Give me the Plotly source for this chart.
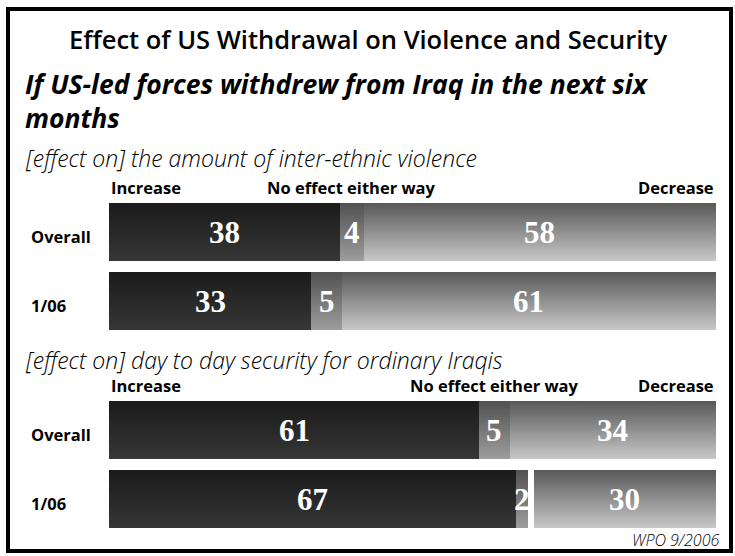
import plotly.graph_objects as go

# ---------------- data ----------------
categories = ["Overall", "1/06"]
responses = ["Increase", "No effect either way", "Decrease"]

violence_increase = [38, 33]
violence_no_effect = [4, 5]
violence_decrease = [58, 61]

security_increase = [61, 67]
security_no_effect = [5, 2]
security_decrease = [34, 30]

title_text = "Effect of US Withdrawal on Violence and Security"
subtitle_lines = ["If US-led forces withdrew from Iraq in the next six", "months"]
section_labels = ["[effect on] the amount of inter-ethnic violence",
                  "[effect on] day to day security for ordinary Iraqis"]
source_text = "WPO 9/2006"

# ---------------- layout helpers ----------------
W, H = 735, 556


def px(x):
    return x / W


def py(y):
    return 1 - y / H


SANS = "Open Sans"
SERIF = "Liberation Serif"

# vertical gradients (top colour, bottom colour) per response
gradients = {
    "Increase": ((0x1b, 0x1b, 0x1b), (0x36, 0x36, 0x36)),
    "No effect either way": ((0x52, 0x52, 0x52), (0x9c, 0x9c, 0x9c)),
    "Decrease": ((0x5a, 0x5a, 0x5a), (0xc6, 0xc6, 0xc6)),
}
N_SLICES = 29
BAR_W = 0.835

sections = [
    dict(inc=violence_increase, ne=violence_no_effect, dec=violence_decrease,
         xa="x", ya="y", stretch=[True, True], header_y=187),
    dict(inc=security_increase, ne=security_no_effect, dec=security_decrease,
         xa="x2", ya="y2", stretch=[True, False], header_y=385),
]

fig = go.Figure()
annotations = []

for sec in sections:
    segs = []  # per row: list of (base, length) for each response
    for r in range(len(categories)):
        i, n, d = sec["inc"][r], sec["ne"][r], sec["dec"][r]
        if sec["stretch"][r]:
            s = 100.0 / (i + n + d)
            segs.append([(0, i * s), (i * s, n * s), ((i + n) * s, d * s)])
        else:
            segs.append([(0, i), (i, n), (100 - d, d)])
    values = [sec["inc"], sec["ne"], sec["dec"]]
    step = BAR_W / N_SLICES
    for k, resp in enumerate(responses):
        bases = [segs[r][k][0] for r in range(len(categories))]
        lengths = [segs[r][k][1] for r in range(len(categories))]
        c0, c1 = gradients[resp]
        for j in range(N_SLICES):
            t = j / (N_SLICES - 1)
            col = "rgb({},{},{})".format(*[round(a + (b - a) * t) for a, b in zip(c0, c1)])
            off = -BAR_W / 2 + j * step
            wid = min(step * 1.8, BAR_W / 2 - off)
            fig.add_trace(go.Bar(
                orientation="h", y=categories, x=lengths, base=bases,
                width=wid, offset=off,
                marker=dict(color=col, line=dict(width=0)),
                xaxis=sec["xa"], yaxis=sec["ya"],
                showlegend=False, hoverinfo="skip"))
        for r in range(len(categories)):
            annotations.append(dict(
                xref=sec["xa"], yref=sec["ya"],
                x=bases[r] + lengths[r] / 2, y=categories[r],
                text="<b>%d</b>" % values[k][r], showarrow=False,
                font=dict(family=SERIF, size=31, color="white"),
                xanchor="center", yanchor="middle"))
    # column headers
    hy = sec["header_y"]
    ne_center = segs[0][1][0] + segs[0][1][1] / 2
    for txt, xx, anc in [("Increase", 0, "left"),
                         ("No effect either way", ne_center, "center"),
                         ("Decrease", 100, "right")]:
        annotations.append(dict(
            xref=sec["xa"], yref="paper", x=xx, y=py(hy), text=txt,
            showarrow=False, xanchor=anc, yanchor="middle",
            font=dict(family=SANS, size=16.5, color="black", weight=700)))
    # row labels
    for r, cat in enumerate(categories):
        annotations.append(dict(
            xref="paper", yref=sec["ya"], x=px(29), y=cat, text=cat,
            showarrow=False, xanchor="left", yanchor="middle", yshift=-4,
            font=dict(family=SANS, size=16.5, color="black", weight=700)))

# titles and labels
annotations += [
    dict(xref="paper", yref="paper", x=px(367.5), y=py(39), text=title_text,
         showarrow=False, xanchor="center", yanchor="middle",
         font=dict(family=SANS, size=25.5, color="black", weight=600)),
    dict(xref="paper", yref="paper", x=px(23), y=py(101.5),
         text="<i>%s</i>" % "<br>".join(subtitle_lines),
         showarrow=False, xanchor="left", yanchor="middle", align="left",
         font=dict(family=SANS, size=26.5, color="black", weight=700)),
    dict(xref="paper", yref="paper", x=px(23), y=py(158), text="<i>%s</i>" % section_labels[0],
         showarrow=False, xanchor="left", yanchor="middle",
         font=dict(family=SANS, size=23, color="black", weight=300)),
    dict(xref="paper", yref="paper", x=px(23), y=py(360), text="<i>%s</i>" % section_labels[1],
         showarrow=False, xanchor="left", yanchor="middle",
         font=dict(family=SANS, size=23, color="black", weight=300)),
    dict(xref="paper", yref="paper", x=px(721), y=py(540), text="<i>%s</i>" % source_text,
         showarrow=False, xanchor="right", yanchor="middle",
         font=dict(family=SANS, size=16, color="black", weight=300)),
]

xdom = [px(109), px(716)]
fig.update_layout(
    width=W, height=H,
    margin=dict(l=0, r=0, t=0, b=0),
    paper_bgcolor="white", plot_bgcolor="rgba(0,0,0,0)",
    barmode="overlay", bargap=0,
    showlegend=False,
    xaxis=dict(domain=xdom, range=[0, 100], visible=False, fixedrange=True),
    xaxis2=dict(domain=xdom, range=[0, 100], visible=False, fixedrange=True, anchor="y2"),
    yaxis=dict(domain=[py(336.25), py(197.25)], range=[1.5, -0.5], visible=False,
               type="category", categoryorder="array", categoryarray=categories, fixedrange=True),
    yaxis2=dict(domain=[py(534.25), py(395.25)], range=[1.5, -0.5], visible=False,
                type="category", categoryorder="array", categoryarray=categories,
                anchor="x2", fixedrange=True),
    annotations=annotations,
    shapes=[dict(type="rect", xref="paper", yref="paper",
                 x0=px(8), x1=px(731), y0=py(551), y1=py(9),
                 line=dict(color="black", width=4), fillcolor="rgba(0,0,0,0)")],
)

fig.write_html("out.html", config={"displayModeBar": False},
               post_script="document.body.style.margin='0';")
